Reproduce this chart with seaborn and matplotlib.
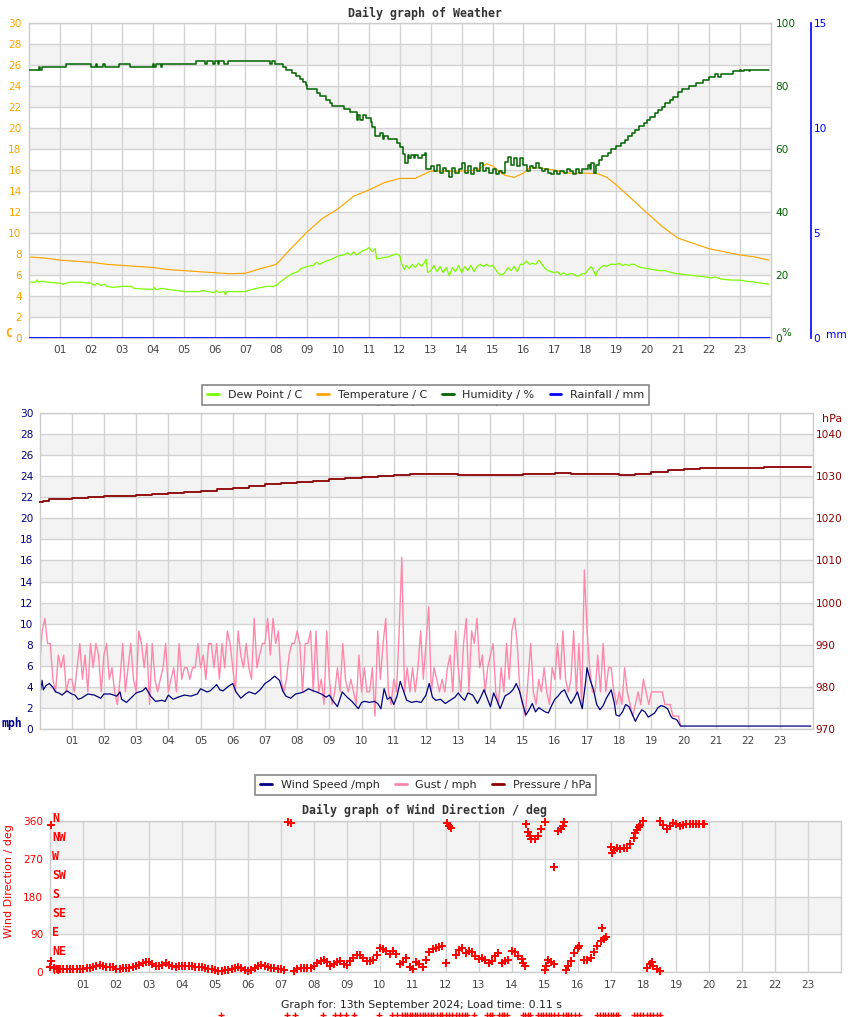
import numpy as np
import matplotlib
matplotlib.use("Agg")
import matplotlib.pyplot as plt
from matplotlib.lines import Line2D
from matplotlib.patches import Rectangle
import seaborn as sns

# ---------------- data ----------------
hour_labels = ["%02d" % h for h in range(1, 24)]

temp_hours = [0, 0.5, 1, 1.5, 2, 2.5, 3, 3.5, 4, 4.5, 5, 5.5, 6, 6.5, 7, 7.5, 8, 8.5, 9, 9.5,
              10, 10.5, 11, 11.5, 12, 12.5, 12.85, 13, 13.5, 14, 14.5, 14.8, 15, 15.2, 15.4, 15.7,
              16, 16.2, 16.5, 17, 17.3, 17.5, 18, 18.4, 18.7, 19, 19.3, 19.6, 20, 20.5, 21, 21.5,
              22, 22.5, 23, 23.5, 23.95]
temp_c = [7.7, 7.6, 7.4, 7.3, 7.2, 7.0, 6.9, 6.8, 6.7, 6.5, 6.4, 6.3, 6.2, 6.1, 6.15, 6.6, 7.0, 8.6, 10.1, 11.4,
          12.3, 13.5, 14.1, 14.8, 15.2, 15.2, 15.7, 15.9, 15.9, 15.9, 16.0, 16.6, 16.4, 15.9, 15.5, 15.3,
          15.7, 16.2, 16.2, 16.0, 15.8, 15.7, 15.7, 15.65, 15.3, 14.6, 13.8, 13.0, 11.9, 10.6, 9.5, 9.0,
          8.5, 8.2, 7.9, 7.7, 7.4]

dew_hours = [0.0, 0.2, 0.25, 0.3, 0.4, 0.6, 1.0, 1.1, 1.3, 1.6, 2.0, 2.1, 2.2, 2.3, 2.45, 2.5, 2.7, 3.0, 3.3, 3.4,
             4.0, 4.05, 4.1, 4.3, 4.5, 4.8, 5.0, 5.5, 5.6, 6.0, 6.05, 6.15, 6.3, 6.35, 6.4, 7.0, 7.2, 7.5, 7.7, 7.9,
             8.0, 8.2, 8.5, 8.7, 8.8, 9.0, 9.2, 9.3, 9.4, 9.6, 9.8, 10.0, 10.2, 10.3, 10.4, 10.5, 10.6, 10.7, 10.8, 10.9,
             11.0, 11.1, 11.2, 11.25, 11.4, 11.6, 11.8, 11.9, 12.0, 12.05, 12.15, 12.2, 12.3, 12.4, 12.5, 12.6, 12.7, 12.8, 12.85, 12.9,
             13.0, 13.1, 13.2, 13.3, 13.4, 13.5, 13.6, 13.7, 13.8, 13.9,
             14.0, 14.1, 14.2, 14.3, 14.4, 14.5, 14.6, 14.7, 14.8, 14.9,
             15.0, 15.1, 15.2, 15.3, 15.4, 15.5, 15.6, 15.7, 15.8, 15.9,
             16.0, 16.1, 16.2, 16.3, 16.4, 16.5, 16.6, 16.7, 16.8, 16.9,
             17.0, 17.1, 17.2, 17.3, 17.4, 17.5, 17.6, 17.7, 17.8, 17.9,
             18.0, 18.1, 18.2, 18.3, 18.35, 18.4, 18.5, 18.6, 18.7, 18.8,
             19.0, 19.1, 19.2, 19.3, 19.4, 19.5, 19.6, 19.7, 19.8,
             20.0, 20.2, 20.4, 20.6, 20.8, 21.0, 21.3, 21.6, 21.9, 22.1, 22.2, 22.4, 22.7, 23.0, 23.2, 23.5, 23.7, 23.95]
dew_c = [5.3, 5.3, 5.5, 5.3, 5.4, 5.3, 5.2, 5.1, 5.3, 5.3, 5.2, 5.0, 5.2, 5.0, 5.1, 4.9, 4.8, 4.9, 4.9, 4.7,
         4.6, 4.8, 4.6, 4.7, 4.6, 4.5, 4.4, 4.4, 4.5, 4.3, 4.5, 4.3, 4.4, 4.1, 4.4, 4.4, 4.6, 4.8, 4.9, 4.9,
         5.0, 5.5, 6.1, 6.3, 6.6, 6.8, 6.9, 7.2, 7.0, 7.3, 7.5, 7.8, 7.9, 8.1, 7.9, 8.2, 7.9, 8.1, 8.3, 8.4,
         8.6, 8.2, 8.5, 7.5, 7.6, 7.7, 7.9, 8.0, 7.8, 7.1, 6.5, 6.9, 6.6, 7.0, 6.7, 7.1, 6.8, 7.2, 7.5, 6.2,
         6.4, 6.9, 6.3, 6.8, 6.2, 6.7, 5.9, 6.7, 6.3, 6.9,
         6.2, 6.8, 6.4, 6.9, 6.3, 6.8, 7.0, 6.8, 7.0, 6.8,
         6.9, 6.5, 6.1, 6.0, 6.2, 6.7, 6.4, 6.8, 6.3, 7.0,
         7.0, 7.3, 7.0, 7.1, 7.0, 7.4, 7.0, 6.6, 6.4, 6.3,
         6.2, 6.3, 6.0, 6.2, 6.0, 6.1, 6.1, 5.9, 5.9, 6.1,
         6.1, 6.5, 6.8, 6.2, 5.9, 6.4, 6.7, 6.9, 6.8, 7.0,
         7.0, 7.1, 6.9, 7.0, 6.9, 7.0, 7.0, 6.8, 6.7,
         6.6, 6.5, 6.4, 6.4, 6.2, 6.1, 6.0, 5.9, 5.8, 5.7, 5.8, 5.6, 5.5, 5.5, 5.4, 5.3, 5.2, 5.1]

hum_hours = [0.0, 0.3, 0.35, 0.4, 1.2, 2.0, 2.15, 2.2, 2.4, 2.45, 2.9, 3.25, 4.0, 4.05, 4.1, 4.25, 4.3,
             5.4, 5.7, 5.75, 5.95, 6.0, 6.1, 6.15, 6.3, 6.45, 7.8, 7.85, 7.95, 8.2, 8.3, 8.5, 8.65, 8.75,
             8.85, 8.95, 9.0, 9.3, 9.4, 9.6, 9.75, 9.8, 10.2, 10.4, 10.6, 10.65, 10.7, 10.8, 10.9, 11.05,
             11.1, 11.2, 11.35, 11.45, 11.5, 11.6, 11.9, 12.0, 12.1, 12.15, 12.25, 12.3, 12.35, 12.45,
             12.5, 12.6, 12.7, 12.8, 12.85,
             13.0, 13.1, 13.2, 13.3, 13.4, 13.5, 13.6, 13.7, 13.8, 13.9,
             14.0, 14.1, 14.2, 14.3, 14.4, 14.5, 14.6, 14.7, 14.8, 14.9,
             15.0, 15.1, 15.2, 15.3, 15.4, 15.5, 15.6, 15.7, 15.8, 15.9,
             16.0, 16.1, 16.2, 16.3, 16.4, 16.5, 16.6, 16.7, 16.8, 16.9,
             17.0, 17.1, 17.2, 17.3, 17.4, 17.5, 17.6, 17.7, 17.8, 17.9,
             18.0, 18.1, 18.15, 18.2, 18.3, 18.35, 18.45, 18.55, 18.75, 18.85,
             19.0, 19.15, 19.3, 19.4, 19.5, 19.6, 19.75, 19.9, 20.0, 20.1, 20.25, 20.35, 20.5, 20.6,
             20.75, 20.85, 21.0, 21.15, 21.35, 21.6, 21.8, 22.0, 22.2, 22.3, 22.4, 22.45, 22.8, 23.0,
             23.05, 23.15, 23.3, 23.35, 23.95]
hum_pct = [85.3, 86.0, 85.3, 86.0, 86.9, 86.1, 86.9, 86.1, 86.9, 86.1, 86.9, 86.1, 86.9, 86.1, 86.9, 86.1, 86.9,
           88.0, 87.0, 88.0, 87.0, 88.0, 87.0, 88.0, 87.0, 88.0, 87.0, 88.0, 86.9, 86.0, 85.1, 84.2, 83.2, 82.2,
           81.3, 80.3, 79.2, 77.9, 76.8, 75.6, 74.6, 73.7, 72.7, 71.7, 69.2, 70.8, 69.2, 70.8, 69.8, 68.5,
           67.0, 64.2, 65.0, 63.2, 64.0, 63.2, 62.0, 60.5, 58.3, 55.6, 58.0, 57.0, 58.0, 57.0,
           58.0, 57.0, 58.0, 58.8, 53.5,
           54.5, 53.0, 55.0, 52.5, 54.0, 53.0, 51.0, 54.0, 52.5, 53.5,
           55.5, 52.5, 54.5, 52.0, 54.0, 53.0, 55.5, 53.0, 54.0, 52.5,
           53.5, 52.0, 53.0, 52.5, 56.0, 57.5, 55.0, 57.0, 54.5, 57.0,
           55.0, 53.0, 54.5, 54.0, 55.5, 54.0, 53.0, 53.5, 52.5, 52.0,
           53.0, 52.0, 53.0, 52.5, 53.5, 53.0, 52.0, 53.5, 52.5, 53.5,
           53.5, 55.0, 53.5, 55.5, 52.5, 55.0, 56.5, 57.9, 58.8, 60.0,
           61.0, 62.0, 63.0, 64.0, 65.0, 66.0, 67.2, 68.2, 69.3, 70.3, 71.4, 72.4, 73.5, 74.5,
           75.6, 76.6, 78.0, 79.0, 80.1, 81.0, 82.0, 83.0, 83.8, 83.0, 83.8, 84.0, 84.8, 85.3,
           84.8, 85.3, 84.8, 85.3, 85.3]

rain_hours = [0.0, 23.95]
rain_mm = [0.0, 0.0]

ws_hours = [0.0, 0.08, 0.12, 0.2, 0.3, 0.4, 0.5, 0.6, 0.7, 0.85,
            1.0, 1.1, 1.2, 1.3, 1.5, 1.7, 1.9,
            2.0, 2.2, 2.4, 2.5, 2.55, 2.7, 2.9,
            3.0, 3.2, 3.3, 3.45, 3.6, 3.8, 3.9,
            4.0, 4.15, 4.3, 4.5, 4.7, 4.9,
            5.0, 5.2, 5.3, 5.5, 5.6, 5.7, 5.85,
            6.0, 6.1, 6.25, 6.4, 6.5, 6.7, 6.85,
            7.0, 7.15, 7.3, 7.45, 7.55, 7.65, 7.8, 7.95,
            8.1, 8.2, 8.35, 8.5, 8.6, 8.75, 8.9,
            9.0, 9.1, 9.25, 9.4, 9.55, 9.7, 9.9,
            10.0, 10.1, 10.25, 10.4, 10.5, 10.6, 10.7, 10.8, 10.9,
            11.0, 11.1, 11.2, 11.3, 11.4, 11.55, 11.7, 11.85,
            12.0, 12.1, 12.2, 12.3, 12.45, 12.6, 12.75, 12.9,
            13.0, 13.1, 13.2, 13.3, 13.45, 13.6, 13.7, 13.8, 13.9,
            14.0, 14.1, 14.2, 14.3, 14.45, 14.6, 14.7, 14.8, 14.9,
            15.0, 15.1, 15.2, 15.3, 15.4, 15.5, 15.6, 15.7, 15.8, 15.9,
            16.0, 16.1, 16.2, 16.3, 16.4, 16.5, 16.6, 16.7, 16.85, 16.95,
            17.0, 17.1, 17.2, 17.3, 17.4, 17.5, 17.6, 17.75, 17.85, 17.9,
            18.0, 18.1, 18.2, 18.3, 18.4, 18.5, 18.6, 18.7, 18.8, 18.9,
            19.0, 19.1, 19.2, 19.3, 19.4, 19.5, 19.6, 19.65, 19.75, 19.8, 19.9,
            20.0, 23.95]
ws_mph = [3.0, 4.6, 3.7, 4.1, 4.3, 4.0, 3.5, 3.4, 3.2, 3.6,
          3.3, 3.2, 2.8, 2.9, 3.3, 3.2, 2.9,
          3.3, 3.3, 3.1, 3.5, 2.8, 2.5, 3.1,
          3.4, 3.6, 3.9, 3.1, 2.6, 2.7, 2.6,
          3.2, 2.8, 3.0, 3.2, 3.1, 3.3,
          3.8, 3.5, 3.6, 4.2, 3.7, 3.6, 4.0,
          4.3, 3.5, 2.9, 3.3, 3.5, 3.3, 3.7,
          4.3, 4.6, 5.0, 4.6, 3.6, 3.1, 2.9, 3.3,
          3.4, 3.5, 3.8, 3.6, 3.5, 3.3, 3.0,
          3.2, 2.7, 2.1, 3.5, 3.0, 2.6, 1.9,
          2.5, 2.6, 2.5, 2.6, 2.4, 1.9, 3.8, 2.8, 3.0,
          2.3, 3.1, 4.5, 3.6, 2.7, 2.5, 2.6, 2.5,
          3.2, 4.3, 3.0, 2.7, 2.8, 2.4, 2.7, 3.0,
          3.4, 3.0, 2.7, 3.4, 3.2, 2.4, 3.0, 3.7, 2.9,
          2.1, 3.4, 2.7, 1.9, 3.1, 3.4, 3.7, 4.3, 3.6,
          2.4, 1.3, 1.8, 2.4, 1.6, 2.0, 1.8, 1.6, 1.5, 2.2,
          2.8, 3.1, 3.5, 3.7, 3.0, 2.4, 2.9, 3.5, 1.9, 4.3,
          5.8, 4.6, 3.7, 2.3, 1.8, 2.2, 2.9, 3.7, 2.4, 1.3,
          1.2, 1.6, 2.3, 2.1, 1.4, 0.7, 1.3, 1.8, 1.6, 1.1,
          1.3, 1.5, 2.0, 2.2, 2.1, 1.9, 1.2, 1.0, 0.9, 0.8, 0.25,
          0.25, 0.25]

# gust readings every 5 minutes from 00:00 to 19:55 (12 per hour)
gust_mph = [
    5.8, 9.3, 10.5, 8.1, 8.1, 4.7, 3.5, 7.0, 5.8, 7.0, 3.5, 4.7,
    4.7, 3.5, 5.8, 8.1, 4.7, 7.0, 3.5, 8.1, 5.8, 8.1, 7.0, 3.5,
    7.0, 8.1, 4.7, 5.8, 3.5, 2.3, 4.7, 8.1, 3.5, 5.8, 8.1, 4.7,
    3.5, 9.3, 8.1, 5.8, 8.1, 2.3, 8.1, 4.7, 3.5, 4.7, 5.8, 8.1,
    3.5, 4.7, 5.8, 3.5, 8.1, 4.7, 5.8, 5.8, 4.7, 5.8, 5.8, 8.1,
    5.8, 7.0, 4.7, 8.1, 8.1, 5.8, 8.1, 4.7, 8.1, 5.8, 9.3, 8.1,
    5.8, 3.5, 9.3, 7.0, 5.8, 8.1, 5.8, 4.7, 10.5, 5.8, 7.0, 8.1,
    8.1, 10.5, 7.0, 10.5, 8.1, 9.3, 4.7, 3.5, 4.7, 7.0, 8.1, 8.1,
    9.3, 8.1, 3.5, 8.1, 8.1, 9.3, 3.5, 9.3, 3.5, 4.7, 2.3, 9.3,
    4.7, 2.3, 3.5, 5.8, 3.5, 8.1, 4.7, 3.5, 4.7, 3.5, 2.3, 7.0,
    3.5, 5.8, 3.5, 3.5, 5.8, 1.2, 9.3, 4.7, 8.1, 10.5, 3.5, 2.3,
    4.7, 3.5, 9.3, 16.3, 3.5, 5.8, 3.5, 5.8, 3.5, 5.8, 9.3, 4.7,
    8.1, 11.6, 3.5, 5.8, 4.7, 3.5, 4.7, 3.5, 5.8, 7.0, 3.5, 9.3,
    5.8, 3.5, 8.1, 10.5, 3.5, 9.3, 8.1, 10.5, 5.8, 7.0, 3.5, 5.8,
    7.0, 8.1, 3.5, 2.3, 5.8, 3.5, 8.1, 4.7, 9.3, 10.5, 8.1, 3.5,
    2.3, 1.2, 4.7, 8.1, 3.5, 2.3, 4.7, 3.5, 5.8, 3.5, 2.3, 5.8,
    4.7, 8.1, 4.7, 9.3, 4.7, 3.5, 4.7, 9.3, 3.5, 8.1, 2.3, 15.1,
    9.3, 5.8, 3.5, 3.5, 7.0, 3.5, 8.1, 3.5, 5.8, 5.8, 3.5, 2.3,
    3.5, 2.3, 5.8, 3.5, 2.3, 1.2, 2.3, 3.5, 2.3, 4.7, 3.5, 2.3,
    3.5, 3.5, 3.5, 3.5, 3.5, 2.3, 2.3, 2.3, 1.2, 1.2, 1.2, 0.2,
]
GUST_STEP_MIN = 5

pres_hours = [0, 0.1, 0.3, 0.5, 1.0, 1.5, 2.0, 2.5, 3.0, 3.5, 4.0, 4.5, 5.0, 5.5, 6.0, 6.5, 7.0, 7.5,
              8.0, 8.5, 9.0, 9.5, 10.0, 10.5, 11.0, 11.5, 12.0, 12.5, 13.0, 13.5, 14.0, 14.5, 15.0,
              15.5, 16.0, 16.5, 17.0, 17.5, 18.0, 18.5, 19.0, 19.5, 20.0, 20.5, 21.0, 21.5, 22.0,
              22.5, 23.0, 23.5, 23.95]
pres_hpa = [1024.0, 1024.2, 1024.6, 1024.7, 1024.9, 1025.1, 1025.3, 1025.3, 1025.5, 1025.8, 1026.1,
            1026.3, 1026.5, 1026.9, 1027.3, 1027.7, 1028.2, 1028.4, 1028.7, 1029.0, 1029.4, 1029.7,
            1029.9, 1030.2, 1030.4, 1030.5, 1030.5, 1030.5, 1030.4, 1030.4, 1030.3, 1030.4, 1030.5,
            1030.6, 1030.7, 1030.6, 1030.6, 1030.6, 1030.4, 1030.6, 1031.0, 1031.5, 1031.8, 1031.9,
            1031.9, 1032.0, 1032.1, 1032.2, 1032.3, 1032.3, 1032.2]

# wind direction every 6 minutes from 00:00 to 11:54
wdir_early_deg = [
    12, 10, 8, 7, 8, 7, 8, 9, 9, 9,
    9, 10, 11, 13, 15, 18, 15, 13, 12, 13,
    8, 9, 10, 11, 11, 13, 15, 18, 22, 24,
    24, 20, 16, 15, 18, 21, 17, 14, 13, 14,
    14, 15, 16, 14, 12, 13, 12, 10, 9, 8,
    6, 4, 3, 5, 6, 7, 10, 12, 11, 6,
    4, 5, 10, 15, 18, 15, 12, 11, 10, 9,
    8, 6, 358, 356, 3, 7, 10, 11, 11, 10,
    14, 22, 28, 30, 24, 14, 20, 24, 26, 20,
    18, 26, 34, 40, 42, 35, 28, 28, 30, 40,
    57, 55, 50, 44, 50, 44, 20, 25, 35, 12,
    8, 25, 20, 12, 30, 48, 55, 57, 60, 62,
]
WDIR_STEP_MIN = 6
wdir_late_hours = [12.0, 12.05, 12.1, 12.15, 12.3, 12.4, 12.5, 12.6, 12.7, 12.8, 12.9,
                   13.0, 13.1, 13.2, 13.3, 13.4, 13.5, 13.6, 13.7, 13.8, 13.9,
                   14.0, 14.1, 14.2, 14.3, 14.35, 14.4, 14.45, 14.5, 14.55, 14.6, 14.7, 14.8, 14.9, 15.0,
                   15.0, 15.05, 15.1, 15.2, 15.3, 15.3, 15.4, 15.5, 15.55, 15.6,
                   15.65, 15.7, 15.8, 15.9, 16.0, 16.05, 16.2, 16.3, 16.4, 16.5, 16.6, 16.7, 16.75, 16.8, 16.85,
                   17.0, 17.05, 17.1, 17.2, 17.3, 17.4, 17.5, 17.6, 17.7, 17.75, 17.8, 17.85, 17.9, 18.0,
                   18.1, 18.2, 18.25, 18.3, 18.4, 18.5,
                   18.5, 18.6, 18.7, 18.8, 18.9, 19.0, 19.1, 19.2, 19.3, 19.4, 19.5, 19.6, 19.7, 19.8, 19.85,
                   0.03, 0.03]
wdir_late_deg = [22, 355, 349, 343, 40, 52, 58, 47, 50, 48, 38,
                 32, 33, 30, 22, 28, 38, 47, 22, 27, 30,
                 50, 48, 38, 32, 22, 14, 352, 333, 325, 318, 316, 325, 340, 357,
                 5, 15, 30, 25, 20, 250, 336, 340, 348, 357,
                 5, 15, 26, 45, 58, 62, 30, 30, 35, 48, 62, 75, 105, 80, 85,
                 297, 283, 290, 295, 293, 295, 296, 305, 320, 332, 338, 345, 350, 359,
                 10, 20, 25, 15, 8, 2,
                 359, 350, 342, 348, 356, 353, 349, 350, 354, 353, 353, 353, 353, 353, 352,
                 350, 28]
# stray markers drawn far below the wind-direction panel
stray_hours = [5.17, 7.18, 7.43, 8.28, 8.64, 8.79, 8.97, 9.22, 9.98, 10.37, 10.52, 10.67, 10.75, 10.83,
               10.9, 10.98, 11.06, 11.14, 11.22, 11.3, 11.38, 11.46, 11.54, 11.61, 11.74, 11.82, 11.9,
               12.0, 12.1, 12.2, 12.3, 12.4, 12.5, 12.58, 12.65, 12.86, 13.25, 13.33, 13.4, 13.62, 13.7,
               13.78, 13.86, 14.35, 14.42, 14.5, 14.56, 14.8, 14.88, 14.96, 15.04, 15.12, 15.2, 15.3,
               15.4, 15.56, 15.64, 15.72, 15.8, 15.92, 16.05, 16.6, 16.68, 16.76, 16.84, 16.92, 17.0,
               17.08, 17.16, 17.23, 17.7, 17.8, 17.9, 18.0, 18.1, 18.2, 18.3, 18.42, 18.5]
stray_deg = -102

compass = ["N", "NE", "E", "SE", "S", "SW", "W", "NW", "N"]
compass_deg = [0, 45, 90, 135, 180, 225, 270, 315, 360]

assert len(temp_hours) == len(temp_c)
assert len(dew_hours) == len(dew_c)
assert len(hum_hours) == len(hum_pct)
assert len(ws_hours) == len(ws_mph)
assert len(pres_hours) == len(pres_hpa)
assert len(wdir_late_hours) == len(wdir_late_deg)

# ---------------- styling ----------------
sns.set_theme(style="white")
plt.rcParams["font.family"] = ["DejaVu Sans"]
MONO = "DejaVu Sans Mono"

C_TEMP = "#ffa500"
C_DEW = "#7cfc00"
C_HUM = "#006400"
C_RAIN = "#0000ff"
C_WS = "#000080"
C_GUST = "#ff88aa"
C_PRES = "#8b0000"
C_DIR = "#ff0000"
GRID = "#d3d3d3"
BAND = "#f3f3f3"
TXT = "#444444"

W, H = 850, 1017
fig = plt.figure(figsize=(W / 100, H / 100), dpi=100)


def box(l, t, r, b):
    return [l / W, 1 - b / H, (r - l) / W, (b - t) / H]


def fx(px):
    return px / W


def fy(py):
    return 1 - py / H


def style_base(ax, ymax, yticks, bands, ycolor, ypad):
    ax.set_xlim(0, 24)
    ax.set_ylim(0, ymax)
    ax.set_facecolor("white")
    for lo, hi in bands:
        ax.axhspan(lo, hi, color=BAND, lw=0, zorder=0)
    ax.set_xticks(range(1, 24))
    ax.set_xticklabels(hour_labels)
    ax.set_yticks(yticks)
    ax.grid(True, color=GRID, lw=1)
    ax.set_axisbelow(True)
    for s in ax.spines.values():
        s.set_color("#cccccc")
        s.set_linewidth(1)
    ax.tick_params(axis="x", length=0, pad=5.5, labelsize=7.6, labelcolor=TXT)
    ax.tick_params(axis="y", length=0, pad=ypad, labelsize=7.6, labelcolor=ycolor)
    ax.set_xlabel("")
    ax.set_ylabel("")


def line(ax, x, y, color, lw=1.0, **kw):
    sns.lineplot(x=x, y=y, ax=ax, color=color, linewidth=lw, estimator=None,
                 sort=False, legend=False, **kw)
    ax.set_xlabel("")
    ax.set_ylabel("")


# ---------------- panel 1: weather ----------------
ax1 = fig.add_axes(box(29.3, 23.3, 770.5, 337.7))
style_base(ax1, 30, range(0, 31, 2), [(2, 4), (6, 8), (10, 12), (14, 16), (18, 20), (22, 24), (26, 28)],
           C_TEMP, 5.5)
line(ax1, dew_hours, dew_c, C_DEW, lw=0.9)
line(ax1, temp_hours, temp_c, C_TEMP, lw=0.85)
ax1.set_ylim(0, 30)

ax1h = ax1.twinx()
ax1h.set_ylim(0, 100)
line(ax1h, hum_hours, hum_pct, C_HUM, lw=1.1, drawstyle="steps-post")
ax1h.set_ylim(0, 100)
ax1h.set_yticks([0, 20, 40, 60, 80, 100])
ax1h.tick_params(axis="y", length=0, pad=3.6, labelsize=7.6, labelcolor=C_HUM)
for s in ax1h.spines.values():
    s.set_visible(False)
ax1h.grid(False)

ax1r = ax1.twinx()
line(ax1r, rain_hours, rain_mm, C_RAIN, lw=2.0)
ax1r.set_ylim(0, 15)
ax1r.set_yticks([0, 5, 10, 15])
ax1r.spines["right"].set_position(("outward", 29))
for k, s in ax1r.spines.items():
    s.set_visible(k == "right")
ax1r.spines["right"].set_color(C_RAIN)
ax1r.spines["right"].set_linewidth(1.2)
ax1r.tick_params(axis="y", length=0, pad=2, labelsize=7.6, labelcolor=C_RAIN)
ax1r.grid(False)
ax1.set_xlim(0, 24)

fig.text(fx(425), fy(13.3), "Daily graph of Weather", ha="center", va="center",
         family=MONO, weight="bold", size=8.4, color="#333333")
fig.text(fx(8.5), fy(333), "C", ha="center", va="center", family=MONO, weight="bold",
         size=8.3, color=C_TEMP)
fig.text(fx(786.5), fy(333), "%", ha="center", va="center", size=7.5, color=C_HUM)
fig.text(fx(836), fy(334.5), "mm", ha="center", va="center", size=7.6, color=C_RAIN)

# hidden title of panel 2 (mostly covered by the first legend, as in the reference)
fig.text(fx(348), fy(399), "Daily graph of Wind Speed", ha="left", va="center",
         family=MONO, weight="bold", size=8.4, color="#333333", zorder=1)

h1 = [Line2D([], [], color=c, lw=2) for c in (C_DEW, C_TEMP, C_HUM, C_RAIN)]
leg1 = fig.legend(h1, ["Dew Point / C", "Temperature / C", "Humidity / %", "Rainfall / mm"],
                  loc="center", bbox_to_anchor=(fx(425.8), fy(394.7)), ncol=4, fontsize=8,
                  frameon=True, fancybox=False, edgecolor="#888888", framealpha=1,
                  handlelength=1.05, handletextpad=0.8, columnspacing=1.35, borderpad=0.45,
                  borderaxespad=0)
leg1.get_frame().set_linewidth(1.2)
leg1.set_zorder(10)

# ---------------- panel 2: wind / pressure ----------------
ax2 = fig.add_axes(box(39.5, 413.3, 812.5, 728.7))
style_base(ax2, 30, range(0, 31, 2), [(2, 4), (6, 8), (10, 12), (14, 16), (18, 20), (22, 24), (26, 28)],
           C_WS, 4.5)
gust_hours = np.arange(len(gust_mph)) * GUST_STEP_MIN / 60.0
line(ax2, gust_hours, gust_mph, C_GUST, lw=1.0)
line(ax2, ws_hours, ws_mph, C_WS, lw=0.9)
ax2.set_ylim(0, 30)

ax2p = ax2.twinx()
line(ax2p, pres_hours, pres_hpa, C_PRES, lw=1.3, drawstyle="steps-post")
ax2p.set_ylim(970, 1045)
ax2p.set_yticks(range(970, 1041, 10))
for s in ax2p.spines.values():
    s.set_visible(False)
ax2p.tick_params(axis="y", length=0, pad=2.2, labelsize=7.6, labelcolor=C_PRES)
ax2p.grid(False)
ax2.set_xlim(0, 24)

fig.text(fx(12), fy(723), "mph", ha="center", va="center", family=MONO, weight="bold",
         size=8.3, color=C_WS)
fig.text(fx(832), fy(419), "hPa", ha="center", va="center", size=8, color=C_PRES)

h2 = [Line2D([], [], color=c, lw=2) for c in (C_WS, C_GUST, C_PRES)]
leg2 = fig.legend(h2, ["Wind Speed /mph", "Gust / mph", "Pressure / hPa"],
                  loc="center", bbox_to_anchor=(fx(425.8), fy(785.2)), ncol=3, fontsize=8,
                  frameon=True, fancybox=False, edgecolor="#888888", framealpha=1,
                  handlelength=1.05, handletextpad=0.8, columnspacing=1.35, borderpad=0.45,
                  borderaxespad=0)
leg2.get_frame().set_linewidth(1.2)
leg2.set_zorder(10)
fig.patches.append(Rectangle((fx(248), fy(801)), (604 - 248) / W, 5 / H, transform=fig.transFigure,
                             facecolor="white", edgecolor="none", zorder=11))

# ---------------- panel 3: wind direction ----------------
ax3 = fig.add_axes(box(50.3, 821, 841.2, 972.3))
style_base(ax3, 360, [0, 90, 180, 270, 360], [(90, 180), (270, 360)], C_DIR, 5)
wdir_early_hours = np.arange(len(wdir_early_deg)) * WDIR_STEP_MIN / 60.0
dir_hours = list(wdir_early_hours) + list(wdir_late_hours)
dir_deg = list(wdir_early_deg) + list(wdir_late_deg)
sns.scatterplot(x=dir_hours, y=dir_deg, ax=ax3, marker="+", color=C_DIR, s=30, linewidth=1.4,
                legend=False, clip_on=False, zorder=4)
sns.scatterplot(x=stray_hours, y=[stray_deg] * len(stray_hours), ax=ax3, marker="+", color=C_DIR,
                s=14, linewidth=1.0, legend=False, clip_on=False, zorder=4)
ax3.set_xlim(0, 24)
ax3.set_ylim(0, 360)
ax3.set_xlabel("")
ax3.set_ylabel("")
for lab, d in zip(compass, compass_deg):
    ax3.text(0.05, d + 5, lab, ha="left", va="center", family=MONO, weight="bold", size=8.3,
             color=C_DIR, zorder=5, clip_on=False)

fig.text(fx(425), fy(810), "Daily graph of Wind Direction / deg", ha="center", va="center",
         family=MONO, weight="bold", size=8.4, color="#333333")
fig.text(fx(9), fy(881), "Wind Direction / deg", ha="center", va="center", rotation=90,
         size=8, color=C_DIR)
fig.text(fx(421.5), fy(1005), "Graph for: 13th September 2024; Load time: 0.11 s", ha="center",
         va="center", size=7.8, color="#222222")

fig.savefig("out.png", dpi=100, facecolor="white")
